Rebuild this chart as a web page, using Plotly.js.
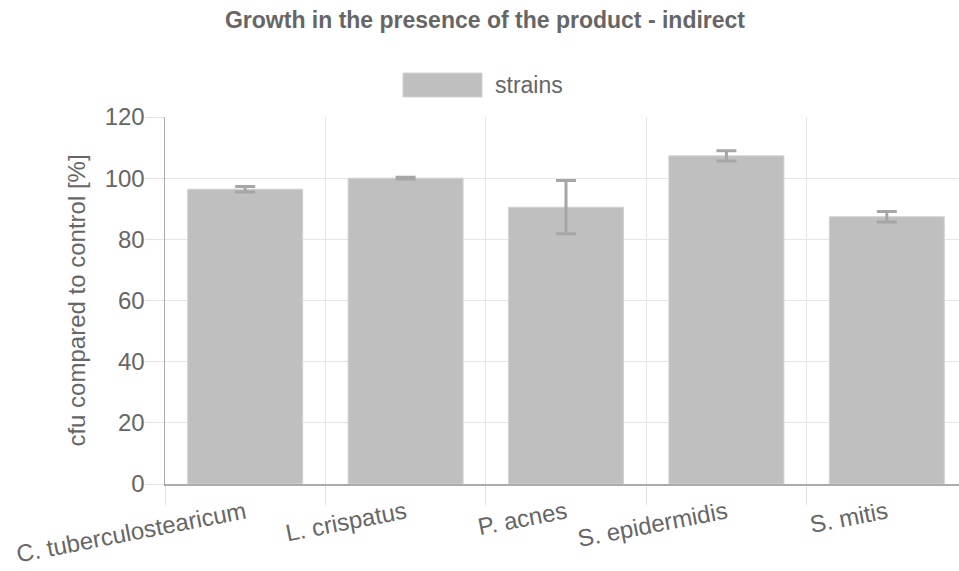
<!DOCTYPE html>
<html>
<head>
<meta charset="utf-8">
<script src="https://cdn.plot.ly/plotly-3.0.1.min.js"></script>
<style>html,body{margin:0;padding:0;background:#fff;} #chart{width:959px;height:571px;}</style>
</head>
<body>
<div id="chart"></div>
<script>
var categories = ["C. tuberculostearicum", "L. crispatus", "P. acnes", "S. epidermidis", "S. mitis"];
var values = [96.4, 100.0, 90.5, 107.3, 87.4];
var errors = [0.9, 0.3, 8.7, 1.7, 1.7];
var yTicks = [0, 20, 40, 60, 80, 100, 120];
var seriesName = "strains";

var FONT = '"Liberation Sans", Arial, sans-serif';
var TXT = '#666666';

var trace = {
  type: 'bar',
  x: categories,
  y: values,
  name: seriesName,
  showlegend: false,
  marker: {color: '#bfbfbf', line: {color: '#d2d2d2', width: 1}},
  error_y: {type: 'data', array: errors, visible: true, color: '#a6a6a6', thickness: 3, width: 10},
  hoverinfo: 'x+y'
};

var layout = {
  width: 959,
  height: 571,
  margin: {l: 165, r: 0, t: 117, b: 87, pad: 0},
  paper_bgcolor: '#ffffff',
  plot_bgcolor: '#ffffff',
  font: {family: FONT, color: TXT, size: 24},
  title: {
    text: 'Growth in the presence of the product - indirect',
    font: {family: FONT, size: 23, color: TXT, weight: 'bold'},
    x: 485 / 959, xref: 'container', xanchor: 'center',
    y: 1 - 20 / 571, yref: 'container', yanchor: 'middle'
  },
  bargap: 0.283,
  xaxis: {
    type: 'category',
    range: [-0.5, -0.5 + (959 - 165) / 160.4],
    tickson: 'boundaries',
    ticks: 'outside',
    ticklen: 19,
    tickcolor: '#e2e2e2',
    tickwidth: 1,
    showgrid: true,
    gridcolor: '#e6e6e6',
    gridwidth: 1,
    showline: true,
    linecolor: '#ababab',
    linewidth: 1.5,
    zeroline: false,
    tickangle: -11,
    ticklabelstandoff: 4,
    tickfont: {family: FONT, size: 24, color: TXT},
    fixedrange: true
  },
  yaxis: {
    range: [0, 120],
    tickvals: yTicks,
    ticktext: yTicks.map(String),
    ticks: 'outside',
    ticklen: 19,
    tickcolor: '#e2e2e2',
    tickwidth: 1,
    showgrid: true,
    gridcolor: '#e6e6e6',
    gridwidth: 1,
    showline: true,
    linecolor: '#ababab',
    linewidth: 1.5,
    zeroline: false,
    ticklabelstandoff: -5,
    tickfont: {family: FONT, size: 24, color: TXT},
    title: {text: 'cfu compared to control [%]', font: {family: FONT, size: 24, color: TXT}, standoff: 12},
    fixedrange: true
  },
  shapes: [{
    type: 'rect', xref: 'paper', yref: 'paper',
    x0: (403 - 165) / 794, x1: (482 - 165) / 794,
    y0: (484 - 97) / 367, y1: (484 - 73) / 367,
    fillcolor: '#bfbfbf', line: {color: '#d2d2d2', width: 1}
  }],
  annotations: [{
    xref: 'paper', yref: 'paper',
    x: (493 - 165) / 794, y: (484 - 85) / 367,
    xanchor: 'left', yanchor: 'middle',
    text: seriesName, showarrow: false,
    font: {family: FONT, size: 23, color: TXT}
  }]
};

Plotly.newPlot('chart', [trace], layout, {displayModeBar: false, staticPlot: true});
</script>
</body>
</html>
